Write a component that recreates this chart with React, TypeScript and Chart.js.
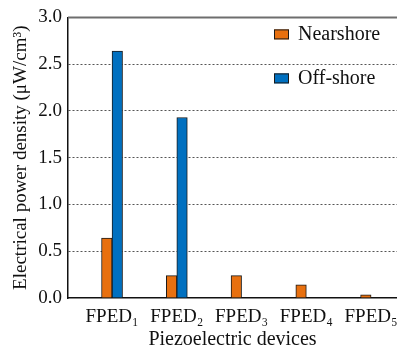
import React, { useEffect, useRef } from "react";
import { Chart, registerables } from "chart.js";

Chart.register(...registerables);

const categories = ["FPED₁", "FPED₂", "FPED₃", "FPED₄", "FPED₅"];
const nearshore = [0.64, 0.24, 0.24, 0.14, 0.035];
const offshore: (number | null)[] = [2.64, 1.93, null, null, null];
const yTicks = [0, 0.5, 1.0, 1.5, 2.0, 2.5, 3.0];
const seriesNames = ["Nearshore", "Off-shore"];

const FONT = '"Liberation Serif", "Times New Roman", serif';

const legendPlugin = {
  id: "insideLegend",
  afterDraw(chart: any) {
    const { ctx, chartArea } = chart;
    ctx.save();
    // top border
    ctx.strokeStyle = "#6e6e6e";
    ctx.lineWidth = 2;
    ctx.beginPath();
    ctx.moveTo(chartArea.left, chartArea.top);
    ctx.lineTo(chartArea.right, chartArea.top);
    ctx.stroke();
    chart.data.datasets.forEach((ds: any, i: number) => {
      const x = chartArea.right - 123;
      const y = chartArea.top + 12 + i * 44;
      ctx.fillStyle = ds.backgroundColor;
      ctx.fillRect(x, y, 15, 10);
      ctx.strokeStyle = "#1a1a1a";
      ctx.lineWidth = 1;
      ctx.strokeRect(x + 0.5, y + 0.5, 14, 9);
      ctx.fillStyle = "#111";
      ctx.font = `20px ${FONT}`;
      ctx.textBaseline = "middle";
      ctx.textAlign = "left";
      ctx.fillText(ds.label, x + 24, y + 5);
    });
    ctx.restore();
  },
};

export default function App() {
  const ref = useRef<HTMLCanvasElement>(null);
  useEffect(() => {
    document.body.style.margin = "0";
    const chart = new Chart(ref.current!, {
      type: "bar",
      data: {
        datasets: [
          {
            label: seriesNames[0],
            data: nearshore.map((v, i) => ({ x: i + 1, y: v })),
            backgroundColor: "#E8700F",
            borderColor: "#1a1a1a",
            borderWidth: 1,
            barThickness: 10.5,
          },
          {
            label: seriesNames[1],
            data: offshore.map((v, i) => ({ x: i + 1, y: v })),
            backgroundColor: "#0070C0",
            borderColor: "#1a1a1a",
            borderWidth: 1,
            barThickness: 10.5,
          },
        ],
      },
      options: {
        animation: false,
        responsive: false,
        layout: { padding: 0 },
        plugins: { legend: { display: false }, tooltip: { enabled: false } },
        scales: {
          x: {
            type: "linear",
            offset: false,
            min: 0.32,
            max: 5.4,
            afterBuildTicks: (scale: any) => {
              scale.ticks = categories.map((_, i) => ({ value: i + 1 }));
            },
            afterFit: (scale: any) => {
              scale.height = 54;
              scale.paddingLeft = 0;
              scale.paddingRight = 0;
            },
            grid: { display: false, drawTicks: false },
            border: { display: true, color: "#111", width: 1.5 },
            ticks: {
              padding: 8,
              color: "#111",
              font: { family: FONT, size: 19 },
              callback: (v: any) => categories[Number(v) - 1] ?? "",
              maxRotation: 0,
              autoSkip: false,
            },
            title: {
              display: true,
              text: "Piezoelectric devices",
              color: "#111",
              font: { family: FONT, size: 20 },
              padding: { top: 0, bottom: 0 },
            },
          },
          y: {
            min: 0,
            max: 3.0,
            afterBuildTicks: (scale: any) => {
              scale.ticks = yTicks.map((v) => ({ value: v }));
            },
            afterFit: (scale: any) => {
              scale.width = 68;
            },
            grid: {
              drawTicks: false,
              color: (c: any) =>
                c.tick && (c.tick.value === 0 || c.tick.value === 3) ? "rgba(0,0,0,0)" : "#555",
              lineWidth: 1,
            },
            border: { display: true, color: "#111", width: 1.5, dash: [2, 2] },
            ticks: {
              padding: 6,
              color: "#111",
              font: { family: FONT, size: 19 },
              callback: (v: any) => Number(v).toFixed(1),
            },
            title: {
              display: true,
              text: "Electrical power density (μW/cm³)",
              color: "#111",
              font: { family: FONT, size: 19 },
              padding: { top: 10, bottom: 0 },
            },
          },
        },
      },
      plugins: [legendPlugin],
    } as any);
    return () => chart.destroy();
  }, []);
  return <canvas ref={ref} width={397} height={352} style={{ display: "block" }} />;
}
